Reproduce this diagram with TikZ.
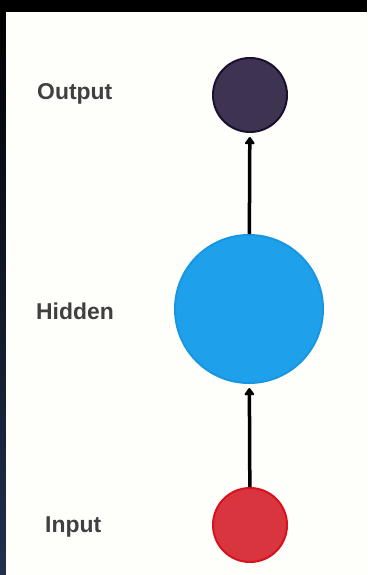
\documentclass[tikz,border=0pt]{standalone}
\usepackage{fontspec}
\setmainfont{Liberation Sans}
\usetikzlibrary{arrows.meta}
\definecolor{panel}{HTML}{FEFEFB}
\definecolor{outfill}{HTML}{3E3350}
\definecolor{outline}{HTML}{1C1030}
\definecolor{hidfill}{HTML}{1FA0EA}
\definecolor{hidline}{HTML}{1996E2}
\definecolor{infill}{HTML}{D9353F}
\definecolor{inline}{HTML}{D7111F}
\definecolor{labelc}{HTML}{404040}
\definecolor{navy}{HTML}{22304E}
\begin{document}
\begin{tikzpicture}[x=1bp,y=-1bp,
  neuron/.style={circle,inner sep=0pt,line width=2bp},
  lab/.style={text=labelc,font=\bfseries\fontsize{23}{28}\selectfont,inner sep=0pt,anchor=base west},
  arr/.style={line width=3.5bp,-{Triangle[width=11bp,length=8bp,round]},shorten >=4bp}]
\useasboundingbox (0,0) rectangle (367,575);
\fill[black] (0,0) rectangle (367,575);
\shade[top color=black,bottom color=navy] (0,0) rectangle (6,575);
\fill[panel] (6,12) rectangle (367,575);
\node[neuron,draw=outline,fill=outfill,minimum size=74bp] (out) at (250,95) {};
\node[neuron,draw=hidline,fill=hidfill,minimum size=148bp] (hid) at (249,309) {};
\node[neuron,draw=inline,fill=infill,minimum size=74bp] (in) at (250,525) {};
\node[lab] (lout) at (37,100) {Output};
\node[lab] (lhid) at (36,319) {Hidden};
\node[lab] (lin) at (45,532) {Input};
\draw[arr] (in) -- (hid);
\draw[arr] (hid) -- (out);
\end{tikzpicture}
\end{document}
